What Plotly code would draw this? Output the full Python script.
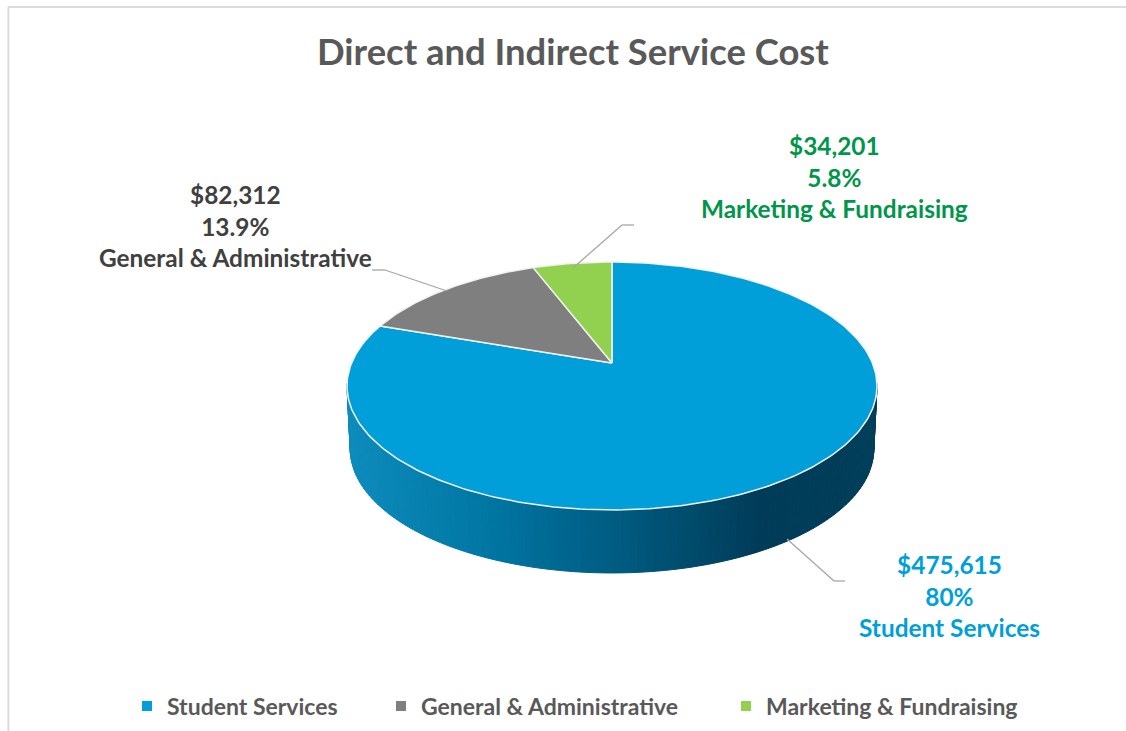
import math
import plotly.graph_objects as go

categories = ["Student Services", "General & Administrative", "Marketing & Fundraising"]
values = [475615, 82312, 34201]
value_labels = ["$475,615", "$82,312", "$34,201"]
percent_labels = ["80%", "13.9%", "5.8%"]
colors = ["#009FDA", "#7F7F7F", "#92D050"]
label_colors = ["#009FDA", "#404040", "#00964A"]
title_text = "Direct and Indirect Service Cost"

FONT = "Lato"
W, H = 1126, 731
CX, CY = 612, 363      # pie apex
A, B, P = 260.4, 119.7, 0.1855  # perspective of the pie's disc
DEPTH, SHRINK = 63, 0.988


def project(theta, depth=0.0, shrink=1.0):
    """theta clockwise from 12 o'clock, radians."""
    u, v = math.sin(theta), math.cos(theta)
    w = 1 + P * v
    return CX + A * u / w * shrink, CY - B * v / w + depth


def lerp_color(t):
    stops = [(347, (12, 140, 188)), (500, (0, 116, 160)), (612, (0, 92, 130)),
             (760, (0, 60, 88)), (877, (0, 62, 90))]
    for (x0, c0), (x1, c1) in zip(stops, stops[1:]):
        if t <= x1:
            f = max(0, (t - x0) / (x1 - x0))
            return "rgb(%d,%d,%d)" % tuple(round(a + (b - a) * f) for a, b in zip(c0, c1))
    return "rgb(0,62,90)"


fig = go.Figure()

# side wall of the pie, drawn as thin slices so it can carry a gradient
start = math.pi / 2 + math.asin(P) - 0.02
end = 3 * math.pi / 2 - math.asin(P) + 0.02
N = 110
for i in range(N):
    t0 = start + (end - start) * i / N
    t1 = start + (end - start) * (i + 1) / N
    x0, y0 = project(t0)
    x1, y1 = project(t1)
    x2, y2 = project(t1, DEPTH, SHRINK)
    x3, y3 = project(t0, DEPTH, SHRINK)
    col = lerp_color((x0 + x1) / 2)
    fig.add_trace(go.Scatter(x=[x0, x1, x2, x3, x0], y=[y0, y1, y2, y3, y0], mode="lines",
                             fill="toself", fillcolor=col, line=dict(color=col, width=1),
                             hoverinfo="skip", showlegend=False))

# top face of the pie: wedges computed from the values
total = sum(values)
cum = 0.0
for cat, val, col in zip(categories, values, colors):
    a0 = cum / total * 2 * math.pi
    cum += val
    a1 = cum / total * 2 * math.pi
    n = max(8, int((a1 - a0) * 60))
    pts = [project(a0 + (a1 - a0) * k / n) for k in range(n + 1)]
    xs = [CX] + [p[0] for p in pts] + [CX]
    ys = [CY] + [p[1] for p in pts] + [CY]
    fig.add_trace(go.Scatter(x=xs, y=ys, mode="lines", fill="toself", fillcolor=col,
                             line=dict(color="#F2F2F2", width=1.5), name=cat,
                             hoverinfo="name", showlegend=False))

# legend: one real legend per entry so that each can sit where the reference has it
legend_names = ["legend", "legend2", "legend3"]
legend_x = [127, 381, 726]
for cat, col, lg in zip(categories, colors, legend_names):
    fig.add_trace(go.Scatter(x=[None], y=[None], mode="markers", name=cat, legend=lg,
                             marker=dict(symbol="square", size=10, color=col)))
legend_common = dict(orientation="h", xanchor="left", yanchor="middle", y=1 - 706 / H,
                     bgcolor="rgba(0,0,0,0)", itemclick=False, itemdoubleclick=False,
                     font=dict(family=FONT, size=23, color="#595959", weight="bold"))

# leader lines
leaders = [([787, 834, 845], [539, 581, 581]),
           ([372, 385, 447], [270, 270, 291]),
           ([634, 622, 573], [225, 225, 268])]
shapes = []
for xs, ys in leaders:
    for k in range(len(xs) - 1):
        shapes.append(dict(type="line", x0=xs[k], y0=ys[k], x1=xs[k + 1], y1=ys[k + 1],
                           line=dict(color="#A6A6A6", width=1.3)))
# chart frame
frame = "#DCDCDC"
shapes.append(dict(type="line", x0=8.4, y0=7, x1=W, y1=7, line=dict(color=frame, width=2)))
shapes.append(dict(type="line", x0=8.4, y0=7, x1=8.4, y1=H, line=dict(color=frame, width=2)))

label_pos = [(949, 596), (235, 226), (834.5, 177)]
annotations = []
for (lx, ly), v, p, c, col in zip(label_pos, value_labels, percent_labels, categories, label_colors):
    annotations.append(dict(x=lx, y=ly, xref="x", yref="y", showarrow=False, align="center",
                            text=f"{v}<br>{p}<br>{c}",
                            font=dict(family=FONT, size=24.4, color=col, weight="bold")))
annotations.append(dict(x=573, y=51, xref="x", yref="y", showarrow=False, text=title_text,
                        font=dict(family=FONT, size=36.4, color="#595959", weight="bold")))

layout = dict(
    width=W, height=H, margin=dict(l=0, r=0, t=0, b=0), paper_bgcolor="white", plot_bgcolor="white",
    xaxis=dict(range=[0, W], visible=False, fixedrange=True),
    yaxis=dict(range=[H, 0], visible=False, fixedrange=True),
    shapes=shapes, annotations=annotations, showlegend=True,
)
for lg, lx in zip(legend_names, legend_x):
    layout[lg] = dict(legend_common, x=lx / W)
fig.update_layout(**layout)
fig.write_html("out.html", config=dict(displayModeBar=False),
               post_script="document.body.style.margin='0';document.body.style.overflow='hidden';")
